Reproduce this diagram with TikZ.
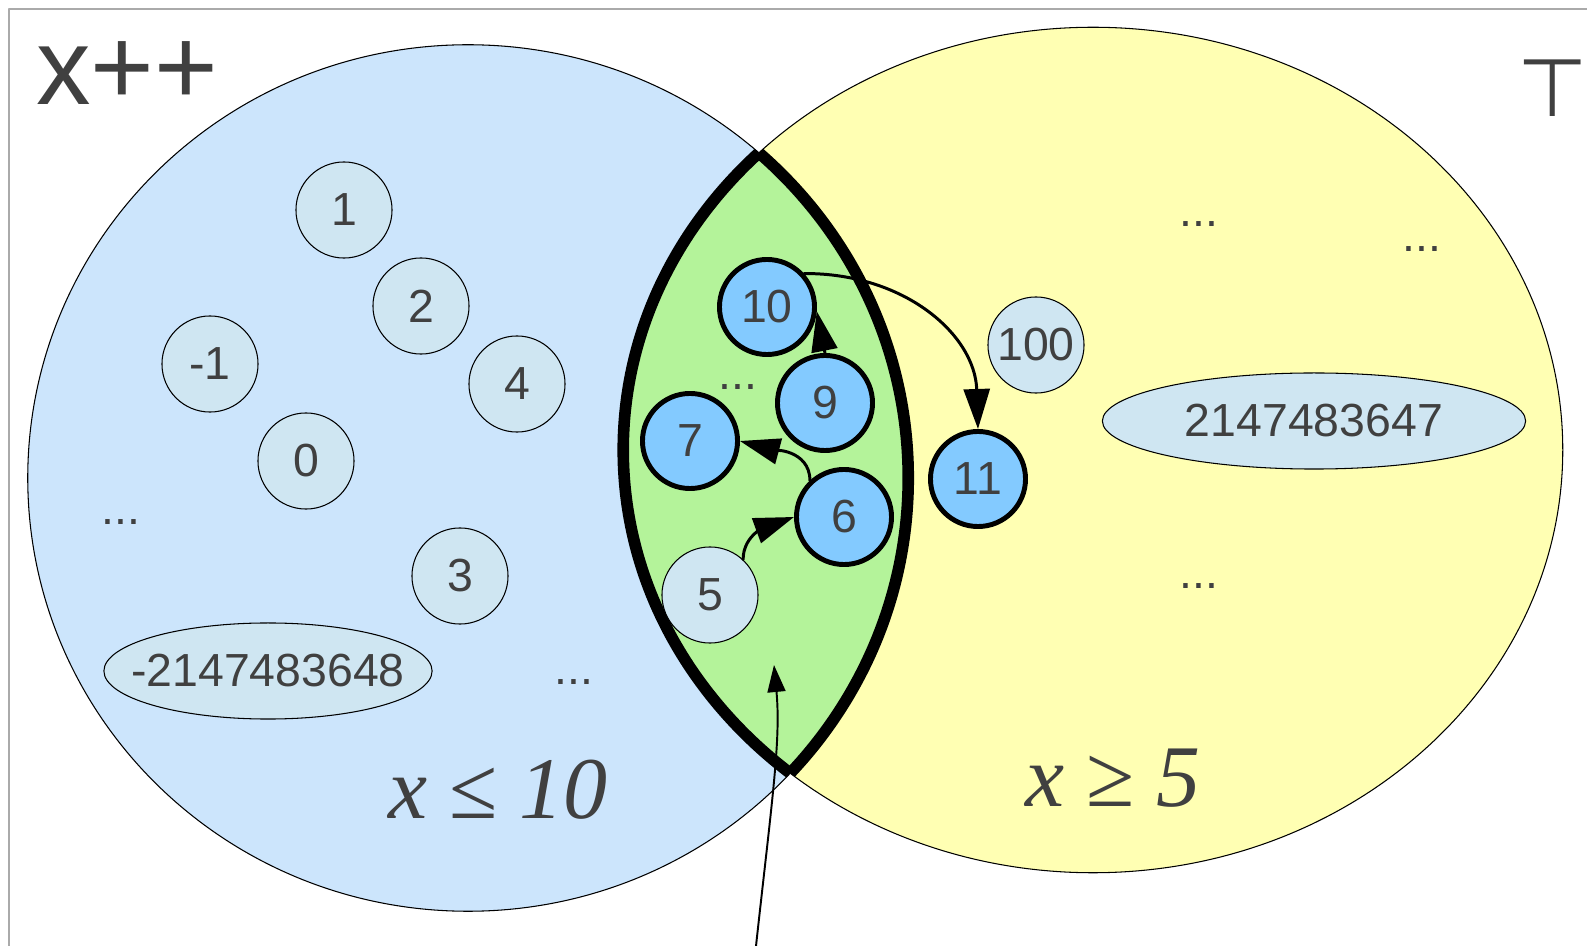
\documentclass[tikz,border=0pt]{standalone}
\usepackage{fontspec}
\setmainfont{Liberation Sans}
\newfontfamily\condfont{Liberation Serif}
\newfontfamily\symfont{DejaVu Sans}
\usetikzlibrary{shapes.geometric,arrows.meta}
\definecolor{txt}{RGB}{64,64,64}
\definecolor{lefill}{RGB}{204,229,252}
\definecolor{gefill}{RGB}{255,255,179}
\definecolor{meet}{RGB}{180,243,154}
\definecolor{valfill}{RGB}{207,230,242}
\definecolor{hitfill}{RGB}{131,202,255}
\definecolor{rim}{RGB}{170,170,170}
\begin{document}
\begin{tikzpicture}[x=0.01cm,y=-0.01cm,line join=round,line cap=round,
  font=\fontsize{13.2}{15}\selectfont,
  val/.style={circle,draw,line width=0.3pt,fill=valfill,text=txt,inner sep=0pt,minimum size=0.96cm},
  hit/.style={val,line width=1.4pt,fill=hitfill,minimum size=0.95cm},
  wide/.style={draw,line width=0.3pt,fill=valfill},
  more/.style={text=txt,anchor=base,inner sep=0pt},
  succ/.style={-{Triangle[length=4mm,width=2.6mm]},line width=0.85pt},
  ]
\useasboundingbox (0,0) rectangle (1587,946);
\def\setle{(468,478) ellipse [x radius=4.40cm,y radius=4.33cm]}
\def\setge{(1093,450) ellipse [x radius=4.695cm,y radius=4.225cm]}
% frame
\draw[rim,line width=0.6pt] (9,946) |- (1587,9);
% the two sets and their meet
\filldraw[fill=lefill,line width=0.3pt] \setle;
\filldraw[fill=gefill,line width=0.3pt] \setge;
\begin{scope}
  \clip \setle;
  \fill[meet] \setge;
  \draw[line width=3.3pt] \setge;
\end{scope}
\begin{scope}
  \clip \setge;
  \draw[line width=3.3pt] \setle;
\end{scope}
% values
\foreach \nm/\x/\y/\t in {v1/344/210/1,v2/421/306/2,vm1/210/364/-1,v4/517/384/4,
  v0/306/461/0,v3/460/576/3,v5/710/595/5,v100/1036/345/100}
  \node[val] (\nm) at (\x,\y) {\t};
\path[wide] (268,671) ellipse [x radius=1.64cm,y radius=0.48cm];
\node[text=txt] (vmin) at (268,671) {-2147483648};
\path[wide] (1314,421) ellipse [x radius=2.115cm,y radius=0.48cm];
\node[text=txt] (vmax) at (1314,421) {2147483647};
\foreach \nm/\x/\y in {10/767/307,9/825/403,7/690/441,6/844/517,11/978/479}
  \node[hit] (h\nm) at (\x,\y) {\nm};
\foreach \x/\y [count=\i] in {121/525,574/685,738/390,1199/227,1422/252,1199/589}
  \node[more] (etc\i) at (\x,\y) {...};
% labels
\node[more,font=\fontsize{31}{36}\selectfont] (op) at (127,105) {x++};
\node[text=txt,inner sep=0pt,font=\symfont\fontsize{23}{26}\selectfont] (top) at (1553,88) {⊤};
\node[more,font=\condfont\fontsize{25}{29}\selectfont] (upper) at (498,819) {\textit{x} ≤ \textit{10}};
\node[more,font=\condfont\fontsize{25}{29}\selectfont] (lower) at (1113,807) {\textit{x} ≥ \textit{5}};
% successor steps
\draw[succ] (v5.47) to[out=90,in=200] (h6.west);
\draw[succ] (h6.133) to[out=90,in=-15] (h7.east);
\draw[succ] (h9.north) -- (h10.-5);
\draw[succ] (h10.42) .. controls (905,273) and (975,335) .. (h11.north);
\coordinate (feed) at (756,946);
\coordinate (feedtip) at (774,665);
\draw[-{Triangle[length=2.7mm,width=1.8mm]},line width=0.55pt] (feed) .. controls (772,800) and (781,740) .. (feedtip);
\end{tikzpicture}
\end{document}
